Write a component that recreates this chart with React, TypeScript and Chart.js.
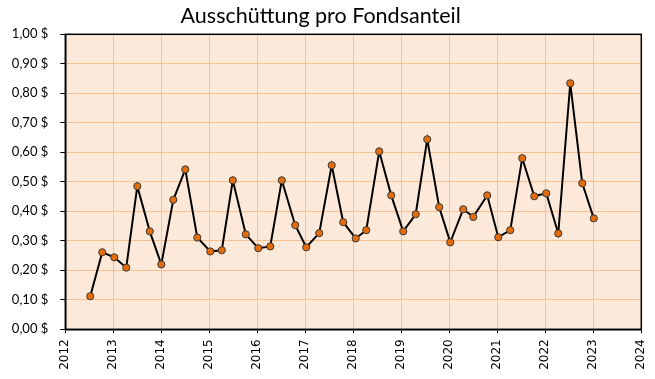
import React, { useEffect, useRef } from "react";
import { Chart, registerables } from "chart.js";

Chart.register(...registerables);

const TITLE = "Ausschüttung pro Fondsanteil";

// distribution dates as decimal years
const dates = [
  2012.52, 2012.77, 2013.02, 2013.27, 2013.5, 2013.76, 2014.0, 2014.25, 2014.5, 2014.75,
  2015.02, 2015.26, 2015.49, 2015.76, 2016.02, 2016.27, 2016.51, 2016.79, 2017.02, 2017.29,
  2017.55, 2017.79, 2018.05, 2018.27, 2018.54, 2018.79, 2019.04, 2019.3, 2019.54, 2019.79,
  2020.02, 2020.29, 2020.5, 2020.79, 2021.02, 2021.27, 2021.52, 2021.77, 2022.02, 2022.27,
  2022.52, 2022.77, 2023.01,
];

const payouts = [
  0.112, 0.261, 0.244, 0.209, 0.485, 0.332, 0.22, 0.439, 0.542, 0.311,
  0.264, 0.268, 0.505, 0.322, 0.275, 0.281, 0.505, 0.353, 0.278, 0.326,
  0.556, 0.363, 0.308, 0.336, 0.603, 0.454, 0.332, 0.39, 0.644, 0.414,
  0.295, 0.407, 0.381, 0.454, 0.312, 0.336, 0.58, 0.451, 0.461, 0.325,
  0.834, 0.495, 0.376,
];

const yearMin = 2012;
const yearMax = 2024;
const yMin = 0;
const yMax = 1;
const yStep = 0.1;

const plotAreaPlugin = {
  id: "plotArea",
  beforeDraw(chart: any) {
    const { ctx, chartArea } = chart;
    ctx.save();
    ctx.fillStyle = "#FDE9D9";
    ctx.fillRect(chartArea.left, chartArea.top, chartArea.right - chartArea.left, chartArea.bottom - chartArea.top);
    ctx.restore();
  },
  beforeDatasetsDraw(chart: any) {
    const { ctx, chartArea } = chart;
    ctx.save();
    ctx.strokeStyle = "#000";
    ctx.lineWidth = 1.5;
    ctx.strokeRect(chartArea.left, chartArea.top, chartArea.right - chartArea.left, chartArea.bottom - chartArea.top);
    ctx.restore();
  },
};

export default function App() {
  const ref = useRef<HTMLCanvasElement | null>(null);

  useEffect(() => {
    document.body.style.margin = "0";
    const canvas = ref.current;
    if (!canvas) return;
    const chart = new Chart(canvas, {
      type: "line",
      data: {
        datasets: [
          {
            data: dates.map((d, i) => ({ x: d, y: payouts[i] })),
            borderColor: "#000",
            borderWidth: 2,
            pointBackgroundColor: "#E46C0A",
            pointBorderColor: "#3a3a3a",
            pointBorderWidth: 1,
            pointRadius: 3.6,
            tension: 0,
          },
        ],
      },
      options: {
        animation: false,
        responsive: false,
        devicePixelRatio: 1,
        layout: { padding: { left: 0, right: 13.7, top: 0, bottom: 0 } },
        plugins: {
          legend: { display: false },
          tooltip: { enabled: false },
          title: {
            display: true,
            text: TITLE,
            color: "#000",
            font: { family: "Lato", size: 21.5, weight: "normal" },
            padding: { top: 3.5, bottom: 5 },
          },
        },
        scales: {
          x: {
            type: "linear",
            min: yearMin,
            max: yearMax,
            afterFit(scale: any) {
              scale.height = 49.7;
              scale.paddingLeft = 0;
              scale.paddingRight = 0;
            },
            ticks: {
              stepSize: 1,
              autoSkip: false,
              minRotation: 90,
              maxRotation: 90,
              padding: 6,
              color: "#000",
              font: { family: "DejaVu Sans", size: 12 },
              callback: (v: any) => String(v),
            },
            grid: {
              color: "#FAC090",
              lineWidth: 1,
              tickColor: "#000",
              tickLength: 4,
            },
            border: { color: "#000", width: 1.5 },
          },
          y: {
            min: yMin,
            max: yMax,
            afterFit(scale: any) {
              scale.width = 65.3;
            },
            ticks: {
              stepSize: yStep,
              padding: 12,
              color: "#000",
              font: { family: "Lato", size: 13 },
              callback: (v: any) => Number(v).toFixed(2).replace(".", ",") + " $",
            },
            grid: {
              color: "#FAC090",
              lineWidth: 1,
              tickColor: "#000",
              tickLength: 5,
            },
            border: { color: "#000", width: 1.5 },
          },
        },
      },
      plugins: [plotAreaPlugin],
    });
    return () => chart.destroy();
  }, []);

  return (
    <div style={{ width: 655, height: 379 }}>
      <canvas ref={ref} width={655} height={379} />
    </div>
  );
}
